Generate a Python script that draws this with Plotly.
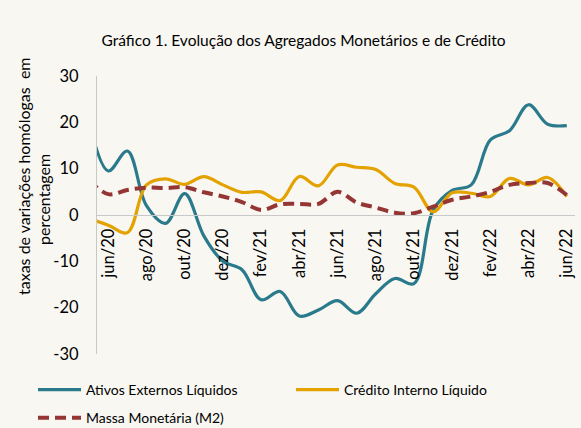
import plotly.graph_objects as go

# Monthly observations, mai/20 .. jun/22 (index 0 .. 25)
months = ["mai/20", "jun/20", "jul/20", "ago/20", "set/20", "out/20", "nov/20", "dez/20",
          "jan/21", "fev/21", "mar/21", "abr/21", "mai/21", "jun/21", "jul/21", "ago/21",
          "set/21", "out/21", "nov/21", "dez/21", "jan/22", "fev/22", "mar/22", "abr/22",
          "mai/22", "jun/22"]
x_idx = list(range(len(months)))

ativos_externos = [20.0, 9.5, 13.8, 2.0, -1.8, 4.6, -4.5, -10.0, -11.8, -18.3, -16.5, -21.8, -20.5,
                   -18.5, -21.2, -17.0, -13.7, -14.8, 1.0, 5.3, 6.5, 16.2, 18.2, 23.8, 19.6, 19.3]
credito_interno = [-0.8, -2.2, -3.8, 6.5, 7.8, 6.6, 8.3, 6.5, 4.9, 5.0, 3.1, 8.3, 6.3,
                   10.8, 10.3, 9.8, 6.8, 6.0, 0.7, 4.8, 4.7, 4.0, 7.9, 6.5, 8.1, 4.0]
massa_monetaria = [7.5, 4.5, 5.4, 5.9, 5.8, 6.0, 4.9, 4.0, 2.8, 1.1, 2.3, 2.4, 2.4,
                   5.0, 2.7, 1.6, 0.5, 0.4, 1.8, 3.3, 4.0, 5.0, 6.5, 6.9, 6.9, 4.3]

tick_idx = [1, 3, 5, 7, 9, 11, 13, 15, 17, 19, 21, 23, 25]
tick_text = [months[i] for i in tick_idx]
y_ticks = [-30, -20, -10, 0, 10, 20, 30]
y_tick_text = ["-30", "-20", "-10", "0", "10", "20", "30"]

title_text = "Gráfico 1. Evolução dos Agregados Monetários e de Crédito"
y_title_lines = ["taxas de variações homólogas  em", "percentagem"]
names = ["Ativos Externos Líquidos", "Crédito Interno Líquido", "Massa Monetária (M2)"]

FONT = "Lato"
BG = "#f8f7f2"
W, H = 581, 428

fig = go.Figure()
fig.add_trace(go.Scatter(x=x_idx, y=ativos_externos, name=names[0], mode="lines",
                         legend="legend", legendgroup="a",
                         line=dict(color="#2a7a8b", width=3.2, shape="spline", smoothing=1)))
fig.add_trace(go.Scatter(x=x_idx, y=credito_interno, name=names[1], mode="lines",
                         legend="legend2", legendgroup="c",
                         line=dict(color="#e3a200", width=3.2, shape="spline", smoothing=1)))
fig.add_trace(go.Scatter(x=x_idx, y=massa_monetaria, name=names[2], mode="lines",
                         legend="legend", legendgroup="m",
                         line=dict(color="#943634", width=4, shape="spline", smoothing=1,
                                   dash="11px,6px")))

legend_common = dict(orientation="v", xanchor="left", yanchor="top", xref="container",
                     yref="container", itemwidth=43, font=dict(size=14, color="#000000"),
                     bgcolor="rgba(0,0,0,0)", borderwidth=0, traceorder="grouped",
                     tracegroupgap=7)

annots = []
for line_text, cx, cy in zip(y_title_lines, [23, 43], [176, 200]):
    annots.append(dict(text=line_text, xref="paper", yref="paper", x=(cx - 97) / 478,
                       y=(354 - cy) / 278, xanchor="center", yanchor="middle", textangle=-90,
                       showarrow=False, font=dict(size=16, color="#000000")))

fig.update_layout(
    width=W, height=H,
    margin=dict(l=97, r=6, t=76, b=74, autoexpand=False),
    paper_bgcolor=BG, plot_bgcolor=BG,
    font=dict(family=FONT, size=15, color="#000000"),
    title=dict(text=title_text, x=303.5 / W, xref="container", xanchor="center",
               y=1 - 41 / H, yref="container", yanchor="middle",
               font=dict(size=15.5, color="#000000")),
    showlegend=True,
    legend=dict(legend_common, x=33 / W, y=1 - 374 / H),
    legend2=dict(legend_common, x=291 / W, y=1 - 374 / H),
    xaxis=dict(range=[0.41, 25.43], tickmode="array", tickvals=tick_idx, ticktext=tick_text,
               tickangle=-90, anchor="free", position=0.5, showline=True,
               linecolor="#c8c8c8", linewidth=1.2, showgrid=False, zeroline=False,
               ticks="", ticklabelstandoff=6, tickfont=dict(size=16.5)),
    yaxis=dict(range=[-30, 30], tickmode="array", tickvals=y_ticks, ticktext=y_tick_text,
               showline=True, linecolor="#c8c8c8", linewidth=1.2, showgrid=False,
               zeroline=False, ticks="", ticklabelstandoff=14, tickfont=dict(size=16.5)),
    annotations=annots,
)

fig.write_html("out.html", config={"displayModeBar": False},
               post_script="document.body.style.margin='0';")
